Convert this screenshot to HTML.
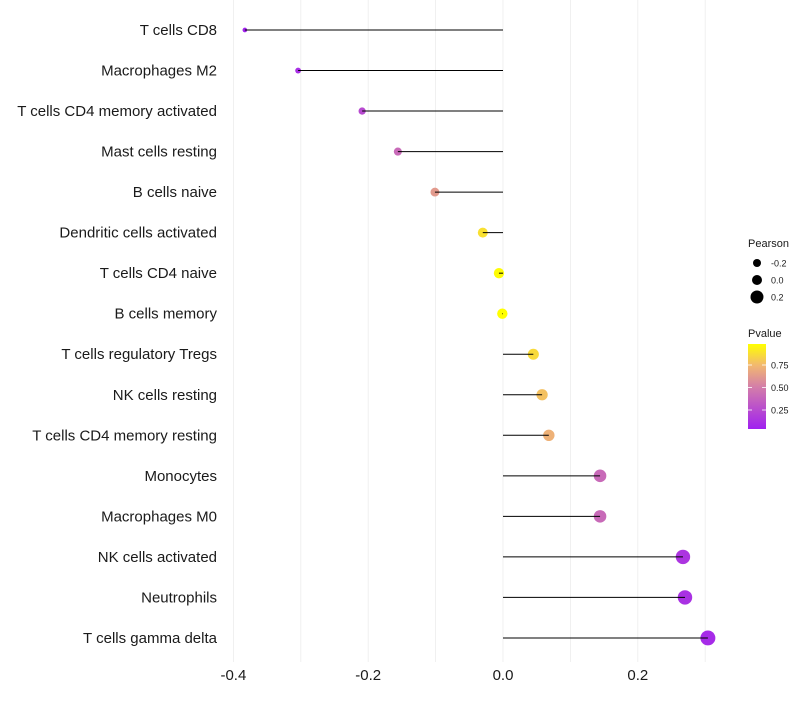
<!DOCTYPE html>
<html><head><meta charset="utf-8"><style>
body{margin:0;background:#fff;font-family:"Liberation Sans",sans-serif}
</style></head><body>
<svg id="chart" width="800" height="700" xmlns="http://www.w3.org/2000/svg">
<defs><linearGradient id="pg" x1="0" y1="1" x2="0" y2="0">
<stop offset="0" stop-color="#a020f0"/><stop offset="0.5" stop-color="#d47fa8"/><stop offset="0.75" stop-color="#f2b870"/><stop offset="1" stop-color="#ffff00"/></linearGradient></defs>
<g id="grid"></g><g id="marks"></g><g id="labels"></g><g id="legend"></g>
</svg>
<script>
const categories=["T cells CD8","Macrophages M2","T cells CD4 memory activated","Mast cells resting","B cells naive","Dendritic cells activated","T cells CD4 naive","B cells memory","T cells regulatory  Tregs ","NK cells resting","T cells CD4 memory resting","Monocytes","Macrophages M0","NK cells activated","Neutrophils","T cells gamma delta"];
const pearson=[-0.383,-0.304,-0.209,-0.156,-0.101,-0.030,-0.006,-0.001,0.045,0.058,0.068,0.144,0.144,0.267,0.270,0.304];
const pvalue=[0.06,0.12,0.25,0.40,0.62,0.88,0.97,0.98,0.86,0.78,0.72,0.40,0.40,0.15,0.13,0.10];
const xTicks=[-0.4,-0.2,0.0,0.2];
const xTickLabels=["-0.4","-0.2","0.0","0.2"];
const gridVals=[-0.4,-0.3,-0.2,-0.1,0,0.1,0.2,0.3];
const NS="http://www.w3.org/2000/svg";
const x=v=>503+v*674;
const y=i=>30+i*40.53;
const r=v=>Math.max(1.8,5.2+7.5*v);
function lerp(a,b,t){return a.map((c,i)=>Math.round(c+(b[i]-c)*t));}
function col(p){const stops=[[0.05,[160,32,240]],[0.5,[212,127,168]],[0.75,[242,184,112]],[0.98,[255,255,0]]];
 p=Math.min(0.98,Math.max(0.05,p));
 for(let i=0;i<stops.length-1;i++){if(p<=stops[i+1][0]){const t=(p-stops[i][0])/(stops[i+1][0]-stops[i][0]);const c=lerp(stops[i][1],stops[i+1][1],t);return `rgb(${c})`;}}
 return 'rgb(255,255,0)';}
function mk(tag,attrs,parent,text){const e=document.createElementNS(NS,tag);for(const k in attrs)e.setAttribute(k,attrs[k]);if(text!==undefined)e.textContent=text;document.getElementById(parent).appendChild(e);return e;}
gridVals.forEach(v=>{const e=mk('line',{x1:x(v),x2:x(v),y1:0,y2:662,stroke:'#ececec','stroke-width':0.8},'grid');

});
categories.forEach((c,i)=>{
 const pt=mk('circle',{cx:x(pearson[i]),cy:y(i),r:r(pearson[i]),fill:col(pvalue[i])},'marks');
 
 
 const ln=mk('line',{x1:x(0),x2:x(pearson[i]),y1:y(i),y2:y(i),stroke:'#000','stroke-width':1},'marks');
 
 
 const t=mk('text',{x:217,y:y(i)+5,'text-anchor':'end','font-size':15,fill:'#1a1a1a'},'labels',c);
 
 
});
xTicks.forEach((v,i)=>{const t=mk('text',{x:x(v),y:680,'text-anchor':'middle','font-size':15,fill:'#1a1a1a'},'labels',xTickLabels[i]);

});
const lt=mk('text',{x:748,y:247,'font-size':11,fill:'#1a1a1a'},'legend','Pearson');


const legVals=[-0.2,0.0,0.2],legLab=["-0.2","0.0","0.2"];
legVals.forEach((v,i)=>{const cy=263+i*17;
 const c=mk('circle',{cx:757,cy:cy,r:[4,5,6.5][i],fill:'#000'},'legend');
 
 
 const t=mk('text',{x:771,y:cy+3.5,'font-size':9,fill:'#1a1a1a'},'legend',legLab[i]);
 
 });
const pt2=mk('text',{x:748,y:337,'font-size':11,fill:'#1a1a1a'},'legend','Pvalue');


const bar=mk('rect',{x:748,y:344,width:18,height:85,fill:'url(#pg)'},'legend');


[[0.75,"0.75"],[0.5,"0.50"],[0.25,"0.25"]].forEach(([v,l])=>{const yy=365+(0.75-v)/0.25*22.5;
 const tk=mk('line',{x1:748,x2:752,y1:yy,y2:yy,stroke:'#fff','stroke-width':0.8},'legend');
 
 
 const tk2=mk('line',{x1:762,x2:766,y1:yy,y2:yy,stroke:'#fff','stroke-width':0.8},'legend');
 
 
 const t=mk('text',{x:771,y:yy+3.5,'font-size':9,fill:'#1a1a1a'},'legend',l);
 
 });
</script>
</body></html>
